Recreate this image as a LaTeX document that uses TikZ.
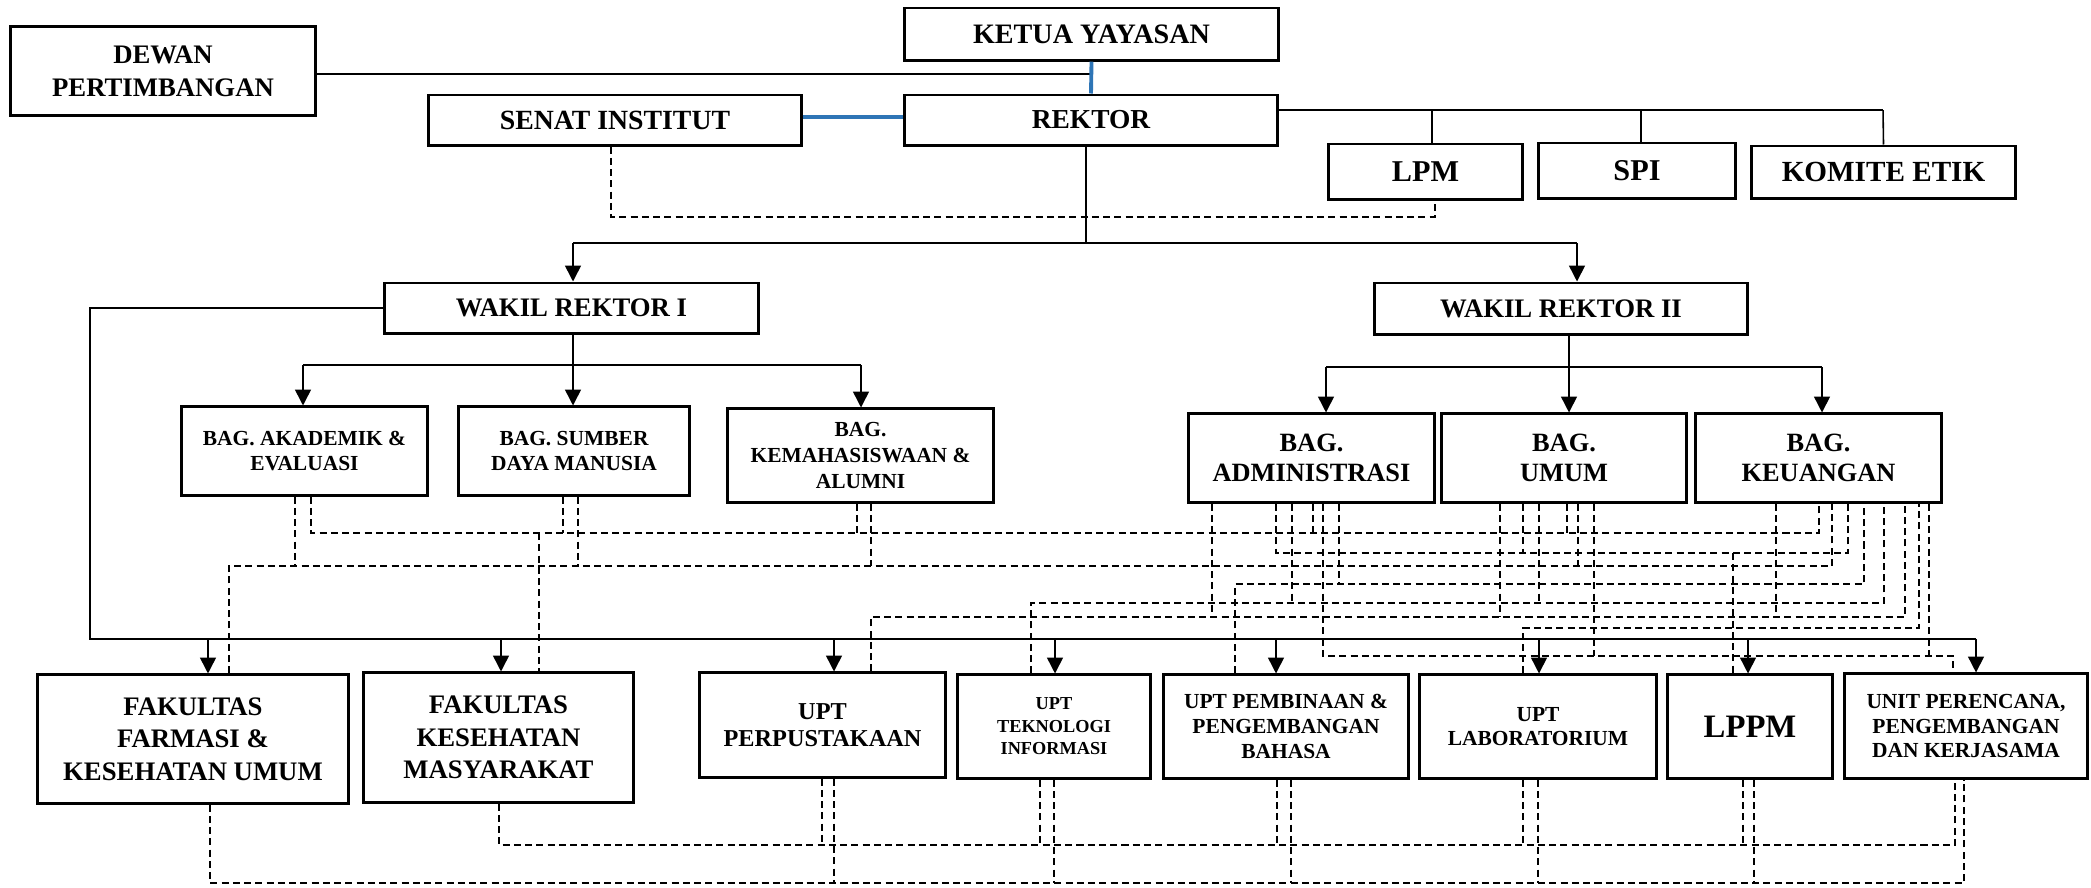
\documentclass[tikz,border=0pt]{standalone}
\usepackage{fontspec}
\setmainfont{Liberation Serif}
\usetikzlibrary{arrows.meta}
\definecolor{linkblue}{HTML}{2E75B6}
\newcommand\fsz[2]{\fontsize{#1pt}{#2pt}\selectfont\bfseries}
\begin{document}
\begin{tikzpicture}[x=0.01cm,y=-0.01cm,
  box/.style={draw, line width=0.85pt, inner sep=0pt, align=center},
  conn/.style={line width=0.45pt},
  thickconn/.style={line width=0.65pt},
  arr/.style={line width=0.45pt, -{Triangle[length=4.5pt,width=4.5pt]}},
  bluelink/.style={draw=linkblue, line width=1.1pt},
  dsh/.style={line width=0.5pt, dash pattern=on 2pt off 1.2pt},
]
\useasboundingbox (0,0) rectangle (2091,887);

% ---------- boxes ----------
\node[box, minimum width=3.73cm, minimum height=0.52cm, font={\fsz{8}{9}}] (ketua) at (1091.5,34) {KETUA YAYASAN};
\node[box, minimum width=3.04cm, minimum height=0.88cm, font={\fsz{7.6}{9.4}}] (dewan) at (163,71) {DEWAN\\PERTIMBANGAN};
\node[box, minimum width=3.72cm, minimum height=0.50cm, font={\fsz{7.9}{9}}] (senat) at (615,120) {SENAT INSTITUT};
\node[box, minimum width=3.72cm, minimum height=0.50cm, font={\fsz{7.8}{9}}] (rektor) at (1091,120) {REKTOR};
\node[box, minimum width=1.93cm, minimum height=0.55cm, font={\fsz{8.6}{9}}] (lpm) at (1425.5,171.5) {LPM};
\node[box, minimum width=1.96cm, minimum height=0.55cm, font={\fsz{8.6}{9}}] (spi) at (1637,170.5) {SPI};
\node[box, minimum width=2.63cm, minimum height=0.52cm, font={\fsz{8.3}{9}}] (komite) at (1883.5,172) {KOMITE ETIK};

\node[box, minimum width=3.73cm, minimum height=0.50cm, font={\fsz{7.6}{9}}] (wr1) at (571.5,308) {WAKIL REKTOR I};
\node[box, minimum width=3.72cm, minimum height=0.51cm, font={\fsz{7.6}{9}}] (wr2) at (1561,308.5) {WAKIL REKTOR II};

\node[box, minimum width=2.45cm, minimum height=0.88cm, font={\fsz{6.1}{7.3}}] (akademik) at (304.5,451) {BAG. AKADEMIK \&\\EVALUASI};
\node[box, minimum width=2.30cm, minimum height=0.88cm, font={\fsz{6.1}{7.3}}] (sumber) at (574,451) {BAG. SUMBER\\DAYA MANUSIA};
\node[box, minimum width=2.65cm, minimum height=0.93cm, font={\fsz{6.1}{7.5}}] (kema) at (860.5,455.5) {BAG.\\KEMAHASISWAAN \&\\ALUMNI};
\node[box, minimum width=2.45cm, minimum height=0.88cm, font={\fsz{7.5}{8.7}}] (admin) at (1311.5,458) {BAG.\\ADMINISTRASI};
\node[box, minimum width=2.44cm, minimum height=0.88cm, font={\fsz{7.5}{8.7}}] (umum) at (1564,458) {BAG.\\UMUM};
\node[box, minimum width=2.45cm, minimum height=0.88cm, font={\fsz{7.5}{8.7}}] (keu) at (1818.5,458) {BAG.\\KEUANGAN};

\node[box, minimum width=3.10cm, minimum height=1.28cm, font={\fsz{7.6}{9.2}}] (ff) at (193,739) {FAKULTAS\\FARMASI \&\\KESEHATAN UMUM};
\node[box, minimum width=2.69cm, minimum height=1.29cm, font={\fsz{7.6}{9.2}}] (fkm) at (498.5,737.5) {FAKULTAS\\KESEHATAN\\MASYARAKAT};
\node[box, minimum width=2.45cm, minimum height=1.04cm, font={\fsz{6.9}{7.8}}] (perpus) at (822.5,725) {UPT\\PERPUSTAKAAN};
\node[box, minimum width=1.92cm, minimum height=1.03cm, font={\fsz{5.2}{6.4}}] (upti) at (1054,726.5) {UPT\\TEKNOLOGI\\INFORMASI};
\node[box, minimum width=2.44cm, minimum height=1.03cm, font={\fsz{6.1}{7.1}}] (pembinaan) at (1286,726.5) {UPT PEMBINAAN \&\\PENGEMBANGAN\\BAHASA};
\node[box, minimum width=2.36cm, minimum height=1.03cm, font={\fsz{6.1}{7.0}}] (lab) at (1538,726.5) {UPT\\LABORATORIUM};
\node[box, minimum width=1.64cm, minimum height=1.03cm, font={\fsz{9.3}{10}}] (lppm) at (1750,726.5) {LPPM};
\node[box, minimum width=2.42cm, minimum height=1.04cm, font={\fsz{6.1}{6.9}}] (unit) at (1966,726) {UNIT PERENCANA,\\PENGEMBANGAN\\DAN KERJASAMA};

% ---------- solid connectors ----------
\draw[thickconn] (dewan.east |- 0,74) -- (ketua.south |- 0,74);
\draw[bluelink] (ketua.south) -- (rektor.north);
\draw[bluelink] (senat.east |- 0,117) -- (rektor.west |- 0,117);
\draw[thickconn] (rektor.east |- 0,110) -- (1883,110);
\draw[conn] (1883,110) -- (komite.north);
\draw[conn] (1432,110) -- (1432,0 |- lpm.north);
\draw[conn] (1641,110) -- (1641,0 |- spi.north);

\draw[conn] (1086,0 |- rektor.south) -- (1086,243);
\draw[conn] (573,243) -- (1577,243);
\draw[arr] (573,243) -- (573,0 |- wr1.north);
\draw[arr] (1577,243) -- (1577,0 |- wr2.north);

\draw[arr] (573,0 |- wr1.south) -- (573,0 |- sumber.north);
\draw[conn] (303,365) -- (861,365);
\draw[arr] (303,365) -- (303,0 |- akademik.north);
\draw[arr] (861,365) -- (861,0 |- kema.north);

\draw[arr] (1569,0 |- wr2.south) -- (1569,0 |- umum.north);
\draw[conn] (1326,367) -- (1822,367);
\draw[arr] (1326,367) -- (1326,0 |- admin.north);
\draw[arr] (1822,367) -- (1822,0 |- keu.north);

\draw[conn] (wr1.west) -- (90,308) -- (90,639) -- (1976,639);
\foreach \x/\n in {208/ff,501/fkm,834/perpus,1055/upti,1276/pembinaan,1539/lab,1748/lppm,1976/unit}
  \draw[arr] (\x,639) -- (\x,0 |- \n.north);

% ---------- dashed: senat - lpm ----------
\draw[dsh] (611,0 |- senat.south) |- (1435,217) -- (1435,0 |- lpm.south);

% ---------- dashed network (middle) ----------
\draw[dsh] (311,0 |- akademik.south) |- (1819,533) -- (1819,0 |- keu.south);
\draw[dsh] (229,0 |- ff.north) |- (1832,566) -- (1832,0 |- keu.south);
\draw[dsh] (1276,0 |- admin.south) |- (1848,553) -- (1848,0 |- keu.south);
\draw[dsh] (1235,0 |- pembinaan.north) |- (1864,584) -- (1864,0 |- keu.south);
\draw[dsh] (1031,0 |- upti.north) |- (1884,603) -- (1884,0 |- keu.south);
\draw[dsh] (871,0 |- perpus.north) |- (1905,617) -- (1905,0 |- keu.south);
\draw[dsh] (1523,0 |- lab.north) |- (1919,628) -- (1919,0 |- keu.south);
\draw[dsh] (1323,0 |- admin.south) |- (1953,656) -- (1953,0 |- unit.north);

\draw[dsh] (539,533) -- (539,0 |- fkm.north);
\draw[dsh] (1733,553) -- (1733,0 |- lppm.north);
\foreach \x/\y in {295/566} \draw[dsh] (\x,0 |- akademik.south) -- (\x,\y);
\foreach \x/\y in {563/533,578/566} \draw[dsh] (\x,0 |- sumber.south) -- (\x,\y);
\foreach \x/\y in {857/533,871/566} \draw[dsh] (\x,0 |- kema.south) -- (\x,\y);
\foreach \x/\y in {1212/617,1292/603,1313/533,1339/584} \draw[dsh] (\x,0 |- admin.south) -- (\x,\y);
\foreach \x/\y in {1500/617,1523/553,1539/603,1567/533,1578/566,1594/656} \draw[dsh] (\x,0 |- umum.south) -- (\x,\y);
\foreach \x/\y in {1776/617,1929/656} \draw[dsh] (\x,0 |- keu.south) -- (\x,\y);

% ---------- dashed network (bottom) ----------
\draw[dsh] (210,0 |- ff.south) |- (1964,883) -- (1964,0 |- unit.south);
\draw[dsh] (499,0 |- fkm.south) |- (1955,845) -- (1955,0 |- unit.south);
\foreach \a/\b/\n in {822/834/perpus,1040/1054/upti,1277/1291/pembinaan,1523/1538/lab,1743/1754/lppm}{
  \draw[dsh] (\a,0 |- \n.south) -- (\a,845);
  \draw[dsh] (\b,0 |- \n.south) -- (\b,883);
}
\end{tikzpicture}
\end{document}
